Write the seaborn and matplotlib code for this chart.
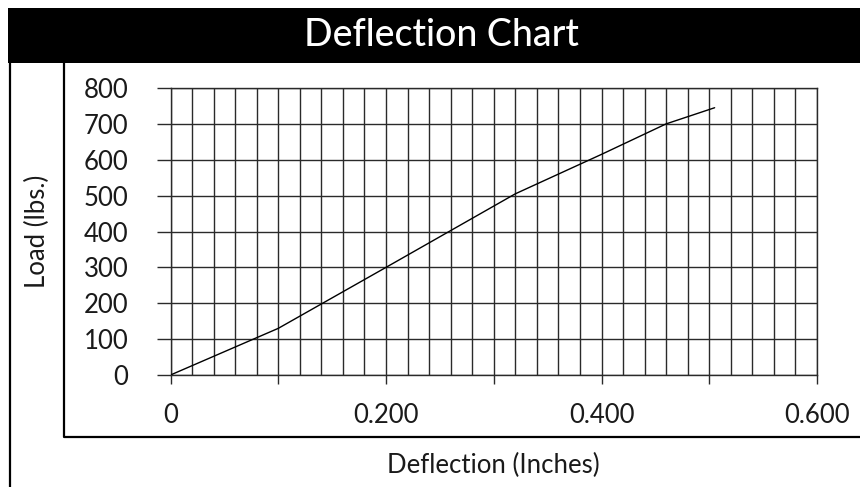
"""Deflection chart: load vs deflection on a fine grid."""

import matplotlib

matplotlib.use("Agg")

import matplotlib.pyplot as plt
import numpy as np
import pandas as pd
import seaborn as sns
from matplotlib.lines import Line2D
from matplotlib.patches import Rectangle

# data
deflection = [0.0, 0.1, 0.2, 0.32, 0.4, 0.46, 0.505]
load = [0, 130, 300, 505, 615, 700, 745]

y_ticks = [0, 100, 200, 300, 400, 500, 600, 700, 800]
x_major = [0.0, 0.1, 0.2, 0.3, 0.4, 0.5, 0.6]
x_labels = ["0", "", "0.200", "", "0.400", "", "0.600"]

W, H = 860, 487
GRID = "#2a2a2a"
TEXT = "#1a1a1a"

sns.set_theme(style="white")
plt.rcParams["font.family"] = ["Lato", "DejaVu Sans"]

df = pd.DataFrame({"Deflection": deflection, "Load": load})

fig = plt.figure(figsize=(W / 100, H / 100), dpi=100)
ax = fig.add_axes([170.5 / W, 1 - 375 / H, (817 - 170.5) / W, (375 - 88) / H])

sns.lineplot(data=df, x="Deflection", y="Load", color="black", lw=1.0, ax=ax, zorder=3)

ax.set_xlim(0, 0.6)
ax.set_ylim(0, 800)
ax.set_xticks(x_major)
ax.set_xticklabels(x_labels)
ax.set_xticks(np.arange(0, 0.6001, 0.02), minor=True)
ax.set_yticks(y_ticks)
ax.set_yticklabels([str(v) for v in y_ticks])

ax.grid(True, which="both", axis="x", color=GRID, lw=1.0)
ax.grid(True, which="major", axis="y", color=GRID, lw=1.0)
for s in ax.spines.values():
    s.set_visible(True)
    s.set_color(GRID)
    s.set_linewidth(1.0)

ax.tick_params(axis="y", which="major", left=True, length=10, width=1.0, color=GRID,
               pad=20.5, labelsize=18.5, labelcolor=TEXT)
ax.tick_params(axis="x", which="major", bottom=True, length=6.5, width=1.0, color=GRID,
               pad=13.5, labelsize=18.5, labelcolor=TEXT)
ax.tick_params(axis="x", which="minor", bottom=False, length=0)

ax.set_xlabel("Deflection (Inches)", fontsize=18.5, color=TEXT)
ax.set_ylabel("Load (lbs.)", fontsize=18.5, color=TEXT)
ax.xaxis.set_label_coords(0.5, -0.272)
ax.yaxis.set_label_coords(-0.186, 0.5)

# title bar and frame lines
fig.add_artist(Rectangle((8 / W, 1 - 63 / H), (W - 8) / W, 55 / H,
                         transform=fig.transFigure, facecolor="black", edgecolor="none"))
fig.text(441 / W, 1 - 36 / H, "Deflection Chart", color="white", fontsize=27,
         fontweight="medium", ha="center", va="center")
fig.add_artist(Line2D([9.5 / W, 9.5 / W], [1 - 63 / H, 0], transform=fig.transFigure,
                      color="black", lw=1.6))
fig.add_artist(Line2D([64 / W, 64 / W, 1], [1 - 63 / H, 1 - 437 / H, 1 - 437 / H],
                      transform=fig.transFigure, color="black", lw=1.6))

fig.savefig("out.png", dpi=100)
